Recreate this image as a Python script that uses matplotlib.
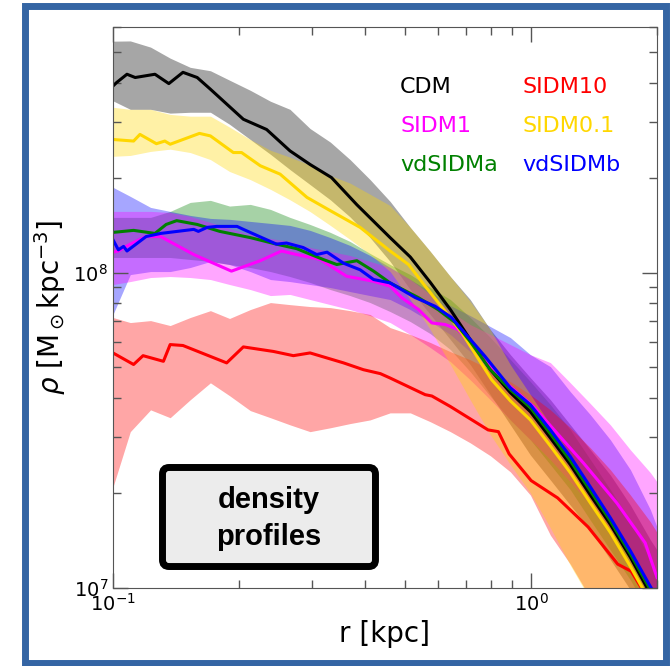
import matplotlib
matplotlib.use("Agg")
import matplotlib.pyplot as plt
from matplotlib.patches import FancyBboxPatch, Rectangle
from matplotlib.ticker import NullFormatter

# density in units of 1e8 Msun/kpc^3, radius in kpc
cdm_r = [0.100, 0.102, 0.108, 0.113, 0.126, 0.136, 0.147, 0.159, 0.171, 0.205,
         0.233, 0.265, 0.296, 0.333, 0.383, 0.460, 0.514, 0.574, 0.641, 0.715,
         0.799, 0.892, 0.996, 1.112, 1.241, 1.386, 1.547, 1.728, 1.929, 2.000]
cdm_med = [3.90, 4.00, 4.25, 4.15, 4.25, 3.97, 4.31, 4.15, 3.81, 3.06,
           2.84, 2.43, 2.20, 2.00, 1.64, 1.29, 1.12, 0.93, 0.763, 0.613,
           0.492, 0.416, 0.362, 0.299, 0.246, 0.197, 0.159, 0.125, 0.0957, 0.0877]

sidm10_r = [0.100, 0.112, 0.118, 0.132, 0.137, 0.147, 0.187, 0.205, 0.242, 0.270,
            0.296, 0.356, 0.397, 0.436, 0.460, 0.558, 0.579, 0.641, 0.789, 0.835,
            0.886, 1.000, 1.157, 1.369, 1.611, 1.735, 1.848, 2.000]
sidm10_med = [0.556, 0.511, 0.545, 0.523, 0.591, 0.587, 0.517, 0.581, 0.562, 0.545,
              0.556, 0.517, 0.492, 0.478, 0.463, 0.410, 0.406, 0.376, 0.317, 0.313,
              0.266, 0.219, 0.193, 0.156, 0.119, 0.113, 0.0986, 0.082]

sidm1_r = [0.100, 0.103, 0.110, 0.120, 0.130, 0.156, 0.192, 0.225, 0.253, 0.275,
           0.313, 0.362, 0.420, 0.460, 0.491, 0.538, 0.579, 0.623, 0.670, 0.721,
           0.835, 1.013, 1.334, 1.603, 1.874, 2.000]
sidm1_med = [1.16, 1.17, 1.23, 1.30, 1.30, 1.14, 1.01, 1.09, 1.17, 1.14,
             1.10, 0.973, 0.938, 0.905, 0.831, 0.763, 0.692, 0.684, 0.659, 0.584,
             0.469, 0.376, 0.249, 0.186, 0.139, 0.108]

sidm01_r = [0.100, 0.112, 0.116, 0.127, 0.133, 0.137, 0.161, 0.171, 0.194, 0.203,
            0.225, 0.251, 0.291, 0.331, 0.390, 0.460, 0.509, 0.558, 0.646, 0.683,
            0.805, 0.892, 0.996, 1.112, 1.241, 1.386, 1.547, 1.728, 1.929, 2.000]
sidm01_med = [2.64, 2.61, 2.74, 2.56, 2.61, 2.55, 2.76, 2.71, 2.40, 2.40,
              2.18, 2.05, 1.73, 1.57, 1.39, 1.17, 1.06, 0.905, 0.709, 0.644,
              0.457, 0.392, 0.341, 0.282, 0.232, 0.186, 0.150, 0.117, 0.090, 0.083]

vda_r = [0.100, 0.112, 0.126, 0.134, 0.142, 0.159, 0.180, 0.213, 0.246, 0.275,
         0.318, 0.343, 0.383, 0.420, 0.460, 0.537, 0.599, 0.658, 0.715, 0.799,
         0.892, 0.996, 1.112, 1.241, 1.386, 1.547, 1.728, 1.929, 2.000]
vda_med = [1.34, 1.36, 1.33, 1.42, 1.46, 1.42, 1.35, 1.29, 1.23, 1.19,
           1.10, 1.06, 1.09, 1.01, 0.927, 0.833, 0.763, 0.694, 0.604, 0.492,
           0.425, 0.373, 0.308, 0.253, 0.203, 0.163, 0.128, 0.0986, 0.0903]

vdb_r = [0.100, 0.103, 0.106, 0.108, 0.120, 0.130, 0.156, 0.160, 0.168, 0.177,
         0.198, 0.205, 0.246, 0.260, 0.285, 0.307, 0.325, 0.356, 0.390, 0.420,
         0.460, 0.528, 0.589, 0.645, 0.683, 0.776, 0.892, 0.996, 1.112, 1.241,
         1.386, 1.547, 1.728, 1.929, 2.000]
vdb_med = [1.27, 1.18, 1.21, 1.17, 1.30, 1.33, 1.37, 1.35, 1.39, 1.40,
           1.40, 1.37, 1.23, 1.24, 1.20, 1.14, 1.16, 1.07, 1.02, 0.950,
           0.927, 0.833, 0.782, 0.720, 0.659, 0.542, 0.431, 0.381, 0.317, 0.261,
           0.209, 0.167, 0.131, 0.101, 0.093]

# scatter bands, all on one radius grid
band_r = [0.100, 0.110, 0.123, 0.137, 0.153, 0.171, 0.190, 0.213, 0.238, 0.265,
          0.296, 0.331, 0.369, 0.412, 0.460, 0.514, 0.574, 0.641, 0.715, 0.799,
          0.892, 0.996, 1.112, 1.241, 1.386, 1.547, 1.728, 1.929, 2.000]

cdm_hi = [5.41, 5.42, 5.18, 4.78, 4.47, 4.36, 4.07, 3.78, 3.49, 3.29,
          2.86, 2.59, 2.28, 1.97, 1.68, 1.39, 1.166, 0.971, 0.821, 0.659,
          0.549, 0.464, 0.395, 0.329, 0.274, 0.228, 0.183, 0.142, 0.132]
cdm_lo = [3.50, 3.29, 3.29, 3.20, 3.22, 3.22, 2.95, 2.64, 2.37, 2.12,
          1.90, 1.70, 1.50, 1.29, 1.084, 0.883, 0.736, 0.613, 0.511, 0.410,
          0.329, 0.264, 0.220, 0.183, 0.153, 0.123, 0.0986, 0.0791, 0.0736]

sidm10_hi = [0.720, 0.694, 0.704, 0.679, 0.720, 0.757, 0.715, 0.763, 0.803, 0.791,
             0.780, 0.774, 0.757, 0.736, 0.669, 0.636, 0.600, 0.561, 0.529, 0.492,
             0.451, 0.410, 0.367, 0.322, 0.278, 0.237, 0.197, 0.162, 0.150]
sidm10_lo = [0.209, 0.313, 0.367, 0.3465, 0.395, 0.447, 0.407, 0.365, 0.3465, 0.329,
             0.313, 0.322, 0.332, 0.341, 0.359, 0.359, 0.3365, 0.313, 0.2885, 0.2625,
             0.2334, 0.197, 0.147, 0.119, 0.0929, 0.0736, 0.059, 0.0474, 0.044]

sidm1_hi = [1.562, 1.562, 1.562, 1.55, 1.506, 1.441, 1.379, 1.320, 1.282, 1.254,
            1.20, 1.166, 1.132, 1.084, 1.037, 0.950, 0.852, 0.752, 0.684, 0.636,
            0.591, 0.549, 0.518, 0.447, 0.384, 0.329, 0.274, 0.232, 0.217]
sidm1_lo = [0.916, 0.936, 0.964, 0.971, 0.964, 0.950, 0.916, 0.883, 0.845, 0.852,
            0.821, 0.791, 0.763, 0.730, 0.694, 0.636, 0.578, 0.522, 0.457, 0.395,
            0.341, 0.295, 0.255, 0.217, 0.183, 0.153, 0.127, 0.102, 0.0916]

sidm01_hi = [3.34, 3.29, 3.29, 3.17, 3.13, 3.13, 2.89, 2.64, 2.44, 2.32,
             2.19, 2.03, 1.92, 1.77, 1.63, 1.39, 1.166, 0.971, 0.809, 0.659,
             0.510, 0.410, 0.329, 0.264, 0.209, 0.167, 0.130, 0.100, 0.0916]
sidm01_lo = [2.335, 2.35, 2.42, 2.46, 2.40, 2.28, 2.09, 1.97, 1.835, 1.70,
             1.56, 1.41, 1.273, 1.141, 1.007, 0.821, 0.659, 0.511, 0.395, 0.306,
             0.246, 0.200, 0.155, 0.118, 0.0916, 0.0736, 0.059, 0.0474, 0.044]

vda_hi = [1.495, 1.495, 1.495, 1.562, 1.668, 1.693, 1.624, 1.644, 1.585, 1.495,
          1.420, 1.340, 1.254, 1.149, 1.060, 0.985, 0.896, 0.821, 0.720, 0.622,
          0.530, 0.451, 0.381, 0.317, 0.255, 0.205, 0.162, 0.123, 0.1116]
vda_lo = [1.116, 1.116, 1.116, 1.116, 1.100, 1.084, 1.060, 1.037, 1.007, 0.971,
          0.930, 0.883, 0.845, 0.803, 0.752, 0.699, 0.640, 0.570, 0.485, 0.405,
          0.341, 0.295, 0.246, 0.205, 0.164, 0.132, 0.106, 0.082, 0.0764]

vdb_hi = [1.862, 1.743, 1.608, 1.562, 1.517, 1.484, 1.474, 1.452, 1.431, 1.41,
          1.36, 1.29, 1.218, 1.132, 1.037, 0.950, 0.870, 0.786, 0.730, 0.674,
          0.622, 0.549, 0.503, 0.419, 0.354, 0.295, 0.237, 0.177, 0.156]
vdb_lo = [0.736, 0.985, 1.007, 1.007, 1.037, 1.084, 1.060, 1.007, 0.950, 0.936,
          0.916, 0.896, 0.870, 0.845, 0.821, 0.763, 0.699, 0.636, 0.561, 0.492,
          0.425, 0.367, 0.317, 0.264, 0.212, 0.1705, 0.132, 0.102, 0.0916]

models = [
    ('CDM', 'black', cdm_r, cdm_med, cdm_hi, cdm_lo),
    ('SIDM10', 'red', sidm10_r, sidm10_med, sidm10_hi, sidm10_lo),
    ('SIDM1', 'magenta', sidm1_r, sidm1_med, sidm1_hi, sidm1_lo),
    ('SIDM0.1', 'gold', sidm01_r, sidm01_med, sidm01_hi, sidm01_lo),
    ('vdSIDMa', 'green', vda_r, vda_med, vda_hi, vda_lo),
    ('vdSIDMb', 'blue', vdb_r, vdb_med, vdb_hi, vdb_lo),
]
# bands are layered in a different order than the lines
band_order = [0, 4, 5, 2, 1, 3]
unit = 1e8

fig = plt.figure(figsize=(6.72, 6.66), dpi=100)
ax = fig.add_axes([0.16815, 0.11712, 0.80952, 0.84234])

for k in band_order:
    name, col, r, med, hi, lo = models[k]
    ax.fill_between(band_r, [v * unit for v in lo], [v * unit for v in hi],
                    color=col, alpha=0.35, lw=0, zorder=1)
for name, col, r, med, hi, lo in models:
    ax.plot(r, [v * unit for v in med], color=col, lw=2.2, zorder=2)

ax.set_xscale('log')
ax.set_yscale('log')
ax.set_xlim(0.1, 2.0)
ax.set_ylim(1e7, 6e8)
ax.xaxis.set_minor_formatter(NullFormatter())
ax.yaxis.set_minor_formatter(NullFormatter())
ax.tick_params(which='both', direction='in', top=True, right=True,
               color='#555555', labelsize=14)
ax.tick_params(which='major', length=11, width=1)
ax.tick_params(which='minor', length=6, width=1)
for sp in ax.spines.values():
    sp.set_color('#555555')

ax.set_xlabel('r [kpc]', fontsize=20, labelpad=4)
ax.set_ylabel(r'$\rho\ [\mathrm{M}_\odot\mathrm{kpc}^{-3}]$', fontsize=20, labelpad=4)

# coloured model names, two per row
for i, (name, col, r, med, hi, lo) in enumerate(models):
    ax.text(0.5276 + 0.2255 * (i % 2), 0.883 - 0.0695 * (i // 2), name,
            color=col, fontsize=16, transform=ax.transAxes, va='baseline')

box = FancyBboxPatch((0.091, 0.0383), 0.3915, 0.1765,
                     boxstyle='round,pad=0,rounding_size=0.012',
                     fc='#ececec', ec='black', lw=5, transform=ax.transAxes,
                     zorder=5)
ax.add_patch(box)
ax.text(0.2868, 0.1239, 'density\nprofiles', transform=ax.transAxes,
        ha='center', va='center', fontsize=21, fontweight='bold',
        family='Liberation Sans', linespacing=1.45, zorder=6)

fig.patches.append(Rectangle((0.0379, 0.0045), 0.9539, 0.9865, fill=False,
                             ec='#3465a4', lw=5, transform=fig.transFigure))

fig.savefig('out.png', dpi=100)
